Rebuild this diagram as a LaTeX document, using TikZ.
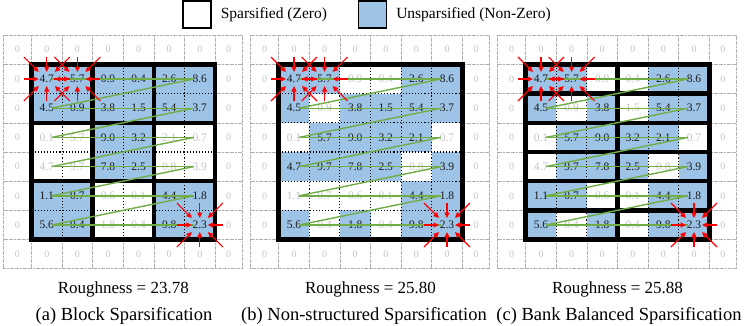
\documentclass[tikz,border=0pt]{standalone}
\usepackage{fontspec}
\setmainfont{Liberation Serif}
\usepackage{tikz}
\usetikzlibrary{arrows.meta,positioning}
\definecolor{keepblue}{HTML}{9DC3E6}
\definecolor{scangreen}{HTML}{70AD47}
\definecolor{fadegray}{HTML}{C4C4C4}
\definecolor{gridgray}{HTML}{B0B0B0}
\definecolor{ink}{HTML}{1A1A1A}
\tikzset{
    gridline/.style={draw=gridgray,line width=0.6pt,dash pattern=on 2pt off 0.6pt},
    zeroval/.style={text=fadegray,font=\fontsize{10}{10}\selectfont,inner sep=0pt},
    weightval/.style={font=\fontsize{11.5}{11.5}\selectfont,inner sep=0pt},
    dotline/.style={draw=black,line width=1.1pt,dash pattern=on 1.1pt off 2pt},
    bankline/.style={draw=black,line width=4.5pt},
    scanline/.style={draw=scangreen,line width=1.4pt},
    pointer/.style={draw=red,line width=1.1pt,-{Triangle[length=5.5pt,width=5pt]}},
    legendbox/.style={draw=black,line width=1.1pt,minimum width=28pt,minimum height=27pt,inner sep=0pt},
    legendtext/.style={font=\fontsize{15.5}{16}\selectfont,inner sep=0pt},
    scorelabel/.style={font=\fontsize{17}{18}\selectfont,inner sep=0pt},
    captionlabel/.style={font=\fontsize{18.5}{20}\selectfont,inner sep=0pt}
}
\def\weights{{4.7/1/1/1,5.7/1/1/1,0.9/1/0/0,0.4/1/0/0,2.6/1/1/1,8.6/1/1/1},
  {4.5/1/1/1,0.9/1/0/0,3.8/1/1/1,1.5/1/1/0,5.4/1/1/1,3.7/1/1/1},
  {0.1/0/0/0,5.7/0/1/1,9.0/1/1/1,3.2/1/1/1,2.1/0/1/1,0.7/0/0/0},
  {4.7/0/1/0,9.7/0/1/1,7.8/1/1/1,2.5/1/1/1,0.8/0/0/0,3.9/0/1/1},
  {1.1/1/0/1,0.7/1/0/1,0.6/0/0/0,0.1/0/0/0,4.4/1/1/1,1.8/1/1/1},
  {5.6/1/1/1,0.4/1/0/0,1.8/0/1/1,0.4/0/0/0,9.8/1/1/1,2.3/1/1/1}}

\begin{document}
\begin{tikzpicture}[x=1pt,y=-1pt]
  \useasboundingbox (0,0) rectangle (748,325);
  \def\w{30.6}\def\h{29.2}\def\Y{64.4}

  \node[legendbox,fill=white] (zerokey) at (197,14.5) {};
  \node[legendtext,right=9pt of zerokey] (zerolabel) {Sparsified (Zero)};
  \node[legendbox,fill=keepblue] (keepkey) at (372.5,14.5) {};
  \node[legendtext,right=9pt of keepkey] (keeplabel) {Unsparsified (Non-Zero)};

  \foreach \p/\X/\pn/\dv/\dh/\tv/\th in {a/31.5/1/{1,3,5}/{1,3,5}/{2,4}/{2,4},
      b/278.7/2/{1,2,3,4,5}/{1,2,3,4,5}/{0}/{0},
      c/525.7/3/{1,2,4,5}/{0}/{3}/{1,2,3,4,5}}{
    % zero padding
    \draw[gridline] (\X-28,35) rectangle (\X+6*\w+27,268);
    \foreach \k in {0,...,6}{
      \draw[gridline] (\X+\k*\w,35) -- (\X+\k*\w,268);
      \draw[gridline] (\X-28,\Y+\k*\h) -- (\X+6*\w+27,\Y+\k*\h);
    }
    \foreach \zx [count=\c] in {-14,15.3,45.9,76.5,107.1,137.7,168.3,197.1}{
      \node[zeroval] (\p-top-\c) at (\X+\zx,49.7) {0};
      \node[zeroval] (\p-bot-\c) at (\X+\zx,253.8) {0};
    }
    \foreach \r in {1,...,6}{
      \node[zeroval] (\p-left-\r) at (\X-14,\Y+\r*\h-\h/2) {0};
      \node[zeroval] (\p-right-\r) at (\X+197.1,\Y+\r*\h-\h/2) {0};
    }
    \fill[white] (\X,\Y) rectangle ++(6*\w,6*\h);

    % weights
    \foreach \row [count=\r] in \weights{
      \foreach \v/\ka/\kb/\kc [count=\c] in \row{
        \edef\keep{\ifcase\pn\or\ka\or\kb\or\kc\fi}
        \ifnum\keep=1
          \fill[keepblue] (\X+\c*\w-\w,\Y+\r*\h-\h) rectangle ++(\w,\h);
          \def\tc{ink}
        \else
          \def\tc{fadegray}
        \fi
        \node[weightval,text=\tc] (\p-\r-\c) at (\X+\c*\w-\w/2,\Y+\r*\h-\h/2) {\v};
      }
    }

    \foreach \k in \dv \draw[dotline] (\X+\k*\w,\Y) -- (\X+\k*\w,\Y+6*\h);
    \foreach \k in \dh \draw[dotline] (\X,\Y+\k*\h) -- (\X+6*\w,\Y+\k*\h);
    \foreach \k in \tv \draw[bankline] (\X+\k*\w,\Y) -- (\X+\k*\w,\Y+6*\h);
    \foreach \k in \th \draw[bankline] (\X,\Y+\k*\h) -- (\X+6*\w,\Y+\k*\h);
    \draw[bankline] (\X,\Y) rectangle ++(6*\w,6*\h);

    % scan order
    \foreach \r in {1,...,6}
      \draw[scanline] ([xshift=5pt]\p-\r-1.center) -- ([xshift=-6pt]\p-\r-6.center);
    \foreach \r [count=\nr from 2] in {1,...,5}
      \draw[scanline] ([xshift=-6pt]\p-\r-6.center) -- ([xshift=5pt]\p-\nr-1.center);

    \foreach \t in {\p-1-1,\p-1-2,\p-6-6}
      \foreach \dx/\dy in {-1/-1,0/-1,1/-1,-1/0,1/0,-1/1,0/1,1/1}
        \draw[pointer] ([shift={(23*\dx,22*\dy)}]\t.center) -- ([shift={(8*\dx,7*\dy)}]\t.center);
  }

  \node[scorelabel] (scoreA) at (123.3,289) {Roughness = 23.78};
  \node[scorelabel] (scoreB) at (370.5,289) {Roughness = 25.80};
  \node[scorelabel] (scoreC) at (617.5,289) {Roughness = 25.88};
  \node[captionlabel] (capA) at (124,315.5) {(a) Block Sparsification};
  \node[captionlabel] (capB) at (364,315.5) {(b) Non-structured Sparsification};
  \node[captionlabel] (capC) at (619,315.5) {(c) Bank Balanced Sparsification};
\end{tikzpicture}
\end{document}
